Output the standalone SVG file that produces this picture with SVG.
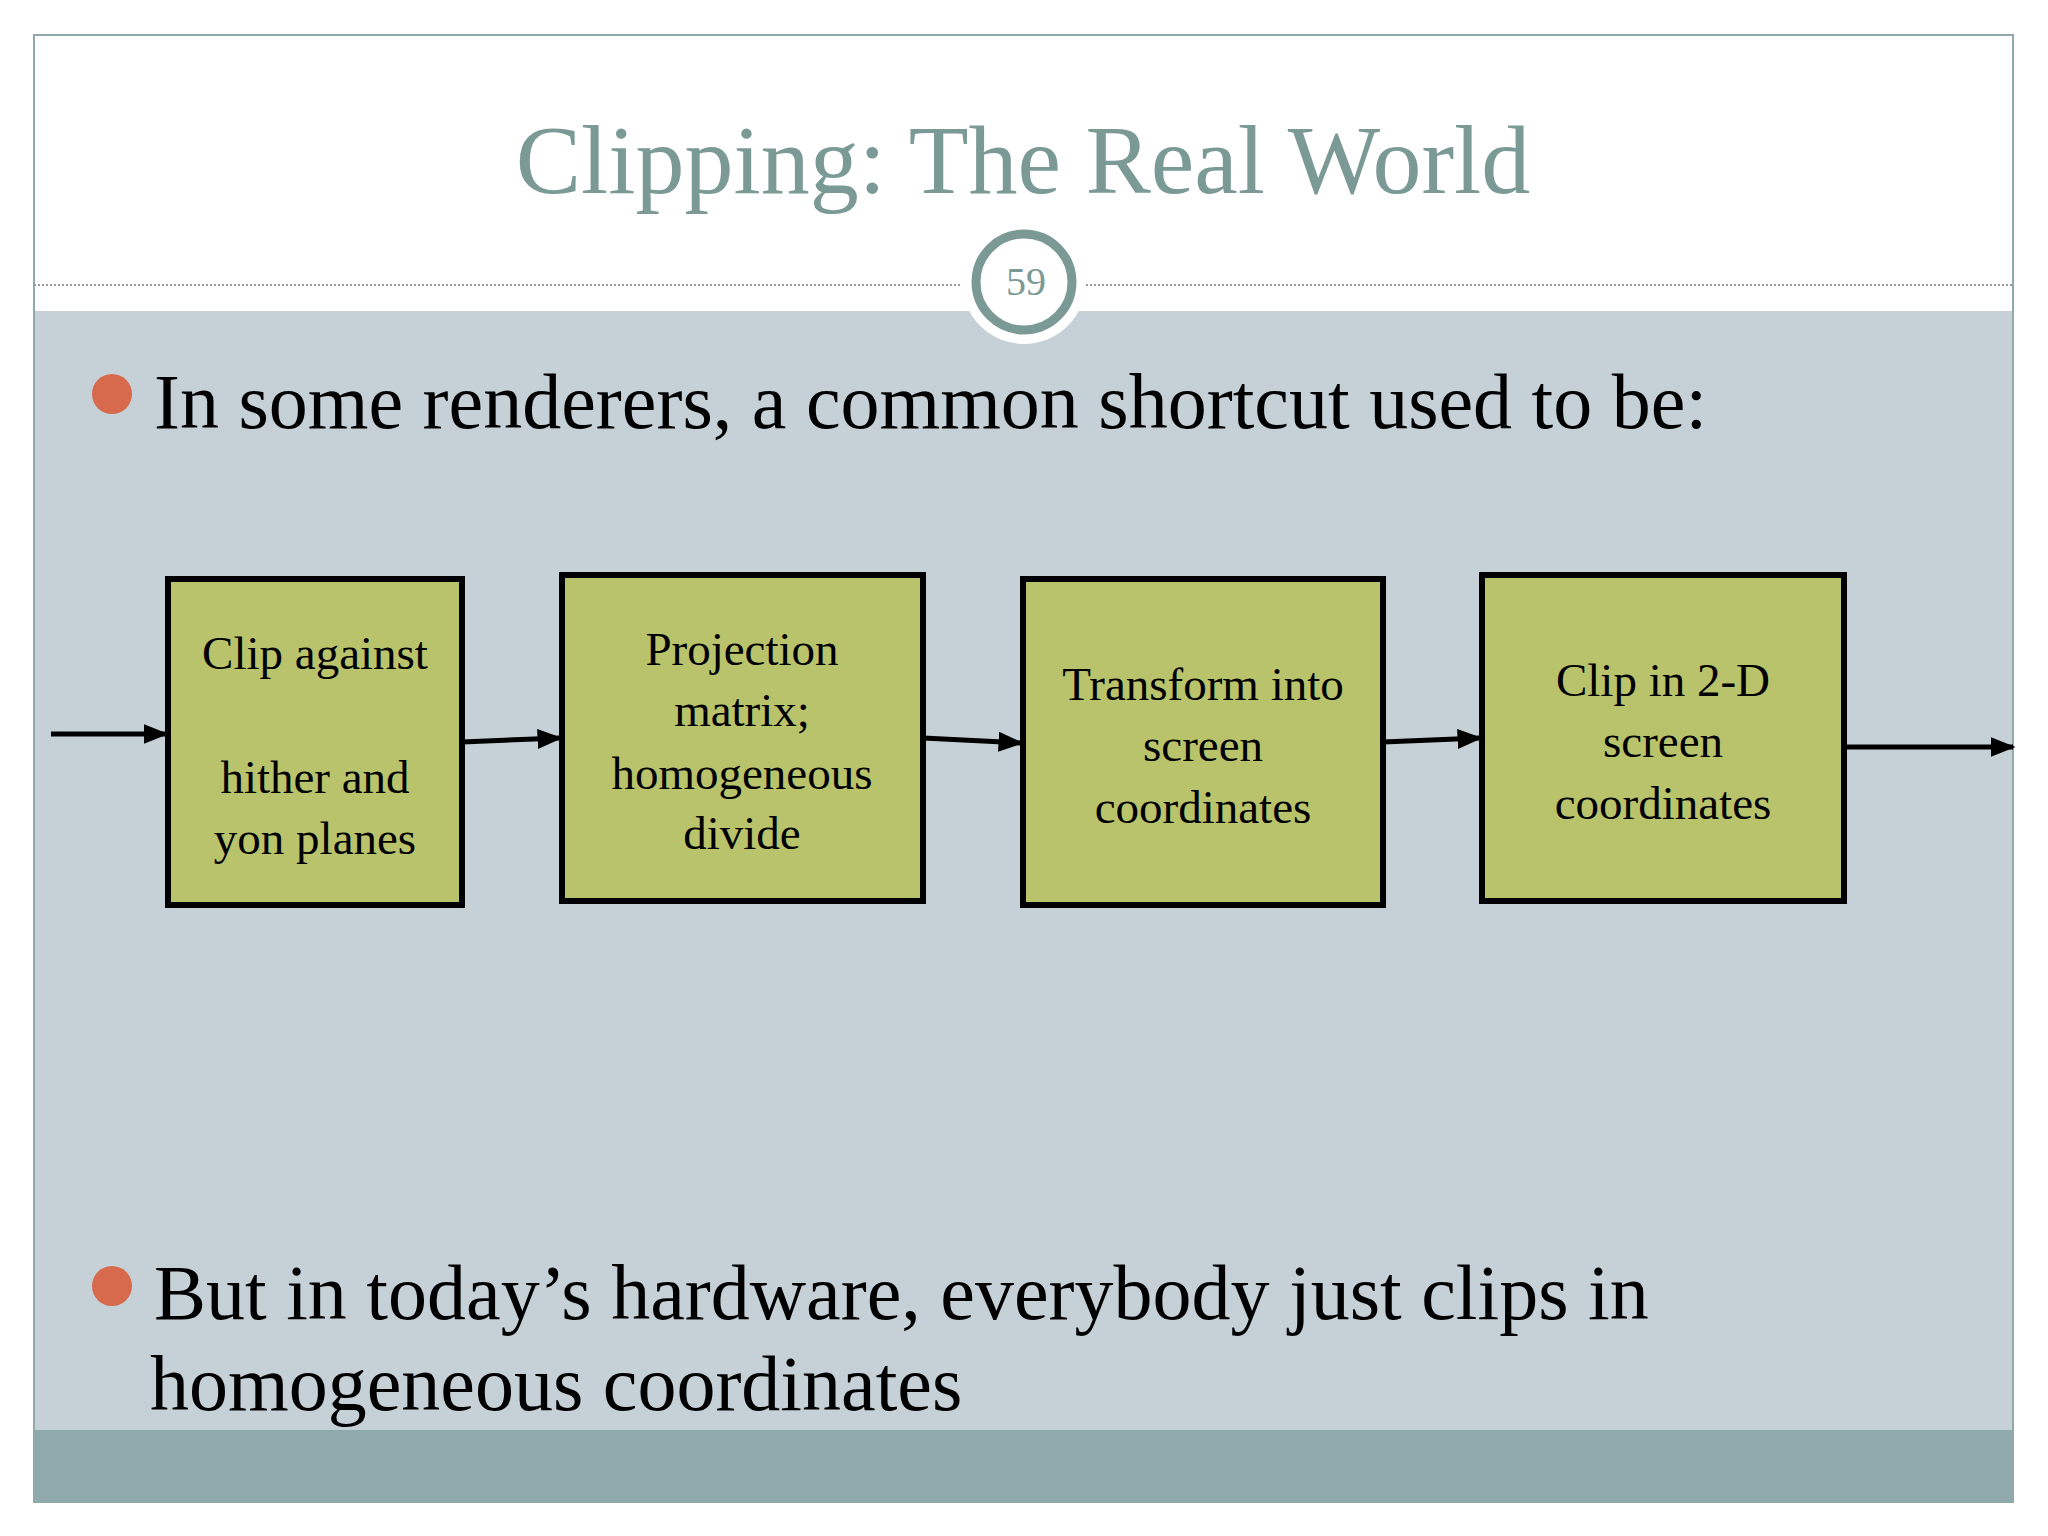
<svg xmlns="http://www.w3.org/2000/svg" width="2048" height="1536" viewBox="0 0 2048 1536">
<style>
.box{fill:#b9c36b;stroke:#000;stroke-width:6}
.bt{font-family:"Liberation Serif",serif;font-size:47px;text-anchor:middle;fill:#000}
.bul{font-family:"Liberation Serif",serif;font-size:78px;fill:#000}
.con{stroke:#000;stroke-width:5;fill:none;marker-end:url(#ah)}
</style>
<defs><marker id="ah" viewBox="0 0 10 10" refX="9" refY="5" markerWidth="5" markerHeight="5" orient="auto" markerUnits="strokeWidth"><path d="M0,1 L10,5 L0,9 z" fill="#000"/></marker></defs>
<rect width="2048" height="1536" fill="#fff"/>
<rect x="34" y="311" width="1979" height="1119" fill="#c5d1d6"/>
<rect x="34" y="1430" width="1979" height="72" fill="#8eaaac"/>
<rect x="34" y="35" width="1979" height="1467" fill="none" stroke="#8eaaac" stroke-width="2"/>
<line x1="34" y1="285" x2="2013" y2="285" stroke="#999" stroke-width="2" stroke-dasharray="2 2"/>
<text x="1023" y="193" font-family="Liberation Serif,serif" font-size="98" fill="#7b9a96" text-anchor="middle">Clipping: The Real World</text>
<circle cx="1024" cy="282" r="62" fill="#fff"/>
<circle cx="1024" cy="282" r="48" fill="#fff" stroke="#7b9a96" stroke-width="9"/>
<text x="1026" y="295" font-family="Liberation Serif,serif" font-size="40" fill="#7b9a96" text-anchor="middle">59</text>
<circle cx="112" cy="394" r="20" fill="#d7694c"/>
<text class="bul" x="154" y="428">In some renderers, a common shortcut used to be:</text>
<circle cx="112" cy="1286" r="20" fill="#d7694c"/>
<text class="bul" x="154" y="1319">But in today’s hardware, everybody just clips in</text>
<text class="bul" x="150" y="1410">homogeneous coordinates</text>
<g id="connectors">
<line class="con" x1="51" y1="734" x2="166" y2="734"/>
<line class="con" x1="462" y1="742" x2="560" y2="738"/>
<line class="con" x1="923" y1="738" x2="1021" y2="743"/>
<line class="con" x1="1383" y1="742" x2="1480" y2="738"/>
<line class="con" x1="1844" y1="747" x2="2013" y2="747"/>
</g>
<g id="n1"><rect class="box" x="168" y="579" width="294" height="326"/>
<text class="bt" x="315" y="669">Clip against</text><text class="bt" x="315" y="793">hither and</text><text class="bt" x="315" y="854">yon planes</text></g>
<g id="n2"><rect class="box" x="562" y="575" width="361" height="326"/>
<text class="bt" x="742" y="665">Projection</text><text class="bt" x="742" y="726">matrix;</text><text class="bt" x="742" y="789">homogeneous</text><text class="bt" x="742" y="849">divide</text></g>
<g id="n3"><rect class="box" x="1023" y="579" width="360" height="326"/>
<text class="bt" x="1203" y="700">Transform into</text><text class="bt" x="1203" y="761">screen</text><text class="bt" x="1203" y="823">coordinates</text></g>
<g id="n4"><rect class="box" x="1482" y="575" width="362" height="326"/>
<text class="bt" x="1663" y="696">Clip in 2-D</text><text class="bt" x="1663" y="757">screen</text><text class="bt" x="1663" y="819">coordinates</text></g>
</svg>
